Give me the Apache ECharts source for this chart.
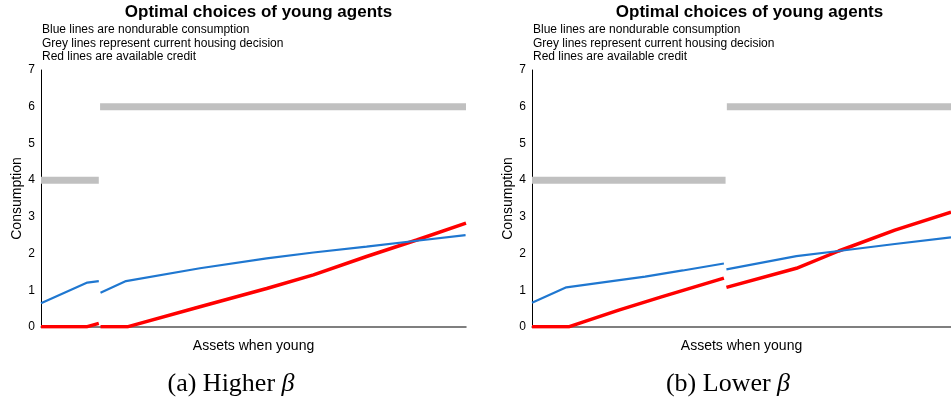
<!DOCTYPE html>
<html><head><meta charset="utf-8">
<script src="https://cdn.jsdelivr.net/npm/echarts@6/dist/echarts.min.js"></script>
<style>html,body{margin:0;padding:0;background:#fff}#c{width:951px;height:411px}</style>
</head><body><div id="c"></div>
<script>
// x in arbitrary asset units (0..100 across the plot), y = consumption
const titleText = 'Optimal choices of young agents';
const noteText = ['Blue lines are nondurable consumption','Grey lines represent current housing decision','Red lines are available credit'];
const yTicks = [0,1,2,3,4,5,6,7];

// Panel (a) Higher beta
const aGrey1 = [[0,4],[13.6,4]];
const aGrey2 = [[13.9,6],[100,6]];
const aBlue1 = [[0,0.65],[10.9,1.21],[13.6,1.25]];
const aBlue2 = [[14.0,0.93],[20.0,1.25],[37.4,1.6],[53.1,1.87],[64.1,2.03],[76.6,2.19],[88.4,2.35],[99.9,2.5]];
const aRed1 = [[0,0.01],[10.9,0.01],[13.6,0.1]];
const aRed2 = [[14.0,0.01],[20.5,0.01],[37.4,0.55],[53.1,1.05],[64.1,1.42],[76.6,1.92],[88.4,2.37],[100,2.83]];

// Panel (b) Lower beta
const bGrey1 = [[0,4],[46.2,4]];
const bGrey2 = [[46.5,6],[100,6]];
const bBlue1 = [[0,0.66],[8.2,1.08],[19.1,1.25],[27.0,1.37],[36.0,1.54],[45.8,1.73]];
const bBlue2 = [[46.4,1.57],[63.1,1.93],[73.2,2.07],[86.6,2.26],[100,2.44]];
const bRed1 = [[0,0.01],[8.9,0.01],[20.7,0.46],[30.9,0.82],[45.8,1.33]];
const bRed2 = [[46.4,1.08],[63.1,1.6],[73.2,2.07],[86.6,2.64],[100,3.13]];

const panels = [
  {left:41, grey:[aGrey1,aGrey2], blue:[aBlue1,aBlue2], red:[aRed1,aRed2], caption:'(a) Higher ', capX:231},
  {left:532, grey:[bGrey1,bGrey2], blue:[bBlue1,bBlue2], red:[bRed1,bRed2], caption:'(b) Lower ', capX:728}
];
const W = 425, TOP = 70, H = 257;
const GREY='#c0c0c0', BLUE='#1f77d0', RED='#ff0000';
const font = 'Liberation Sans, Arial, sans-serif';

const option = {animation:false, backgroundColor:'#fff', title:[], grid:[], xAxis:[], yAxis:[], series:[], graphic:[]};
panels.forEach((p,i)=>{
  option.title.push({text:titleText, left:p.left+W/2, top:-1, textAlign:'center',
    textStyle:{fontFamily:font, fontSize:17, fontWeight:'bold', color:'#000'}});
  option.title.push({text:noteText.join('\n'), left:p.left-4, top:18,
    textStyle:{fontFamily:font, fontSize:12, fontWeight:'normal', color:'#000', lineHeight:13.5}});
  option.grid.push({left:p.left, top:TOP, width:W, height:H});
  option.xAxis.push({type:'value', gridIndex:i, min:0, max:100, name:'Assets when young', nameLocation:'middle', nameGap:12,
    nameTextStyle:{fontFamily:font, fontSize:14, color:'#000'},
    axisLine:{show:true, onZero:false, lineStyle:{color:'#555', width:1.5}}, axisTick:{show:false}, axisLabel:{show:false}, splitLine:{show:false}});
  option.yAxis.push({type:'value', gridIndex:i, min:yTicks[0], max:yTicks[yTicks.length-1], interval:1, name:'Consumption', nameLocation:'middle', nameGap:17, nameRotate:90,
    nameTextStyle:{fontFamily:font, fontSize:14, color:'#000'},
    axisLine:{show:true, lineStyle:{color:'#000', width:1}}, axisTick:{show:false}, splitLine:{show:false},
    axisLabel:{fontFamily:font, fontSize:12, color:'#000', margin:6}});
  const add=(data,color,w,z)=>option.series.push({type:'line', xAxisIndex:i, yAxisIndex:i, data, showSymbol:false, symbol:'none', z,
    lineStyle:{color, width:w, cap:'butt'}, clip:true});
  p.grey.forEach(d=>add(d,GREY,7,1));
  p.blue.forEach(d=>add(d,BLUE,2.2,3));
  p.red.forEach(d=>add(d,RED,3.5,2));
  option.graphic.push({type:'text', x:p.capX, y:384, style:{
    text:'{n|'+p.caption+'}{b|β}', align:'center', verticalAlign:'middle',
    rich:{n:{fontFamily:'Liberation Serif, serif', fontSize:26, fill:'#000'}, b:{fontFamily:'Liberation Serif, serif', fontSize:26, fontStyle:'italic', fill:'#000'}}}});
});
const chart = echarts.init(document.getElementById('c'), null, {renderer:'canvas'});
chart.setOption(option);
</script></body></html>
